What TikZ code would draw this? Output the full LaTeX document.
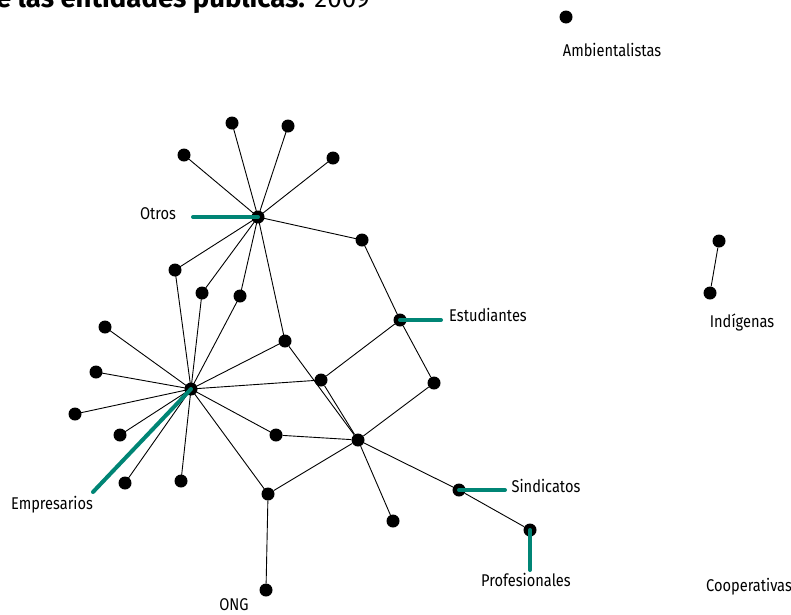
\documentclass[tikz,border=0pt]{standalone}
\usepackage{fontspec}
\setmainfont[FakeStretch=0.86]{Fira Sans}
\newfontfamily\titlefont{Fira Sans}
\usepackage{xcolor}
\definecolor{linkteal}{RGB}{0,133,117}
\usetikzlibrary{positioning}
\tikzset{
  actor/.style={circle,fill=black,inner sep=0pt,minimum size=13pt},
  tie/.style={black,line width=0.9pt},
  callout/.style={linkteal,line width=4pt,line cap=round},
  group/.style={font=\fontsize{17}{19}\selectfont,inner sep=0pt}
}

\begin{document}
\begin{tikzpicture}[x=1pt, y=-1pt]
        \useasboundingbox (0,0) rectangle (791,614);
        % title, cut at the top
        \node[anchor=base west,inner sep=0pt,font=\titlefont\bfseries\fontsize{27.5}{30}\selectfont] (title) at (-4,7) {e las entidades públicas.};
        \node[anchor=base west,inner sep=0pt,font=\titlefont\fontsize{26}{30}\selectfont] (year) at ([xshift=9pt]title.base east) {2009};
        % hubs
        \node[actor] (otros) at (258,217) {};
        \node[actor] (empresarios) at (191,389) {};
        \node[actor] (estudiantes) at (400,320) {};
        \node[actor] (sindicatos) at (459,490) {};
        \node[actor] (profesionales) at (530,530) {};
        \node[actor] (ong) at (266,590) {};
        \node[actor] (ambient) at (566,17) {};
        \node[actor] (indigA) at (719,241) {};
        \node[actor] (indigB) at (710,293) {};
        % other actors
        \node[actor] (a1) at (184,155) {};
        \node[actor] (a2) at (232,123) {};
        \node[actor] (a3) at (288,126) {};
        \node[actor] (a4) at (333,158) {};
        \node[actor] (b1) at (175,270) {};
        \node[actor] (b2) at (202,293) {};
        \node[actor] (b3) at (240,296) {};
        \node[actor] (b4) at (362,240) {};
        \node[actor] (p) at (285,341) {};
        \node[actor] (m) at (321,380) {};
        \node[actor] (t) at (434,383) {};
        \node[actor] (c) at (358,440) {};
        \node[actor] (q) at (276,435) {};
        \node[actor] (r) at (268,494) {};
        \node[actor] (u) at (393,521) {};
        \node[actor] (e1) at (105,327) {};
        \node[actor] (e2) at (96,372) {};
        \node[actor] (e3) at (75,414) {};
        \node[actor] (e4) at (120,435) {};
        \node[actor] (e5) at (125,483) {};
        \node[actor] (e6) at (181,481) {};
        % ties
        \foreach \t in {a1,a2,a3,a4,b1,b2,b3,b4,p}
          \draw[tie] (otros.center) -- (\t.center);
        \foreach \t in {b1,b2,b3,p,m,q,r,e1,e2,e3,e4,e5,e6}
          \draw[tie] (empresarios.center) -- (\t.center);
        \draw[tie] (b4) -- (estudiantes);
        \draw[tie] (estudiantes) -- (m);
        \draw[tie] (estudiantes) -- (t);
        \draw[tie] (t) -- (c);
        \draw[tie] (m) -- (c);
        \draw[tie] (p) -- (c);
        \draw[tie] (q) -- (c);
        \draw[tie] (r) -- (c);
        \draw[tie] (r) -- (ong);
        \draw[tie] (c) -- (u);
        \draw[tie] (c) -- (sindicatos);
        \draw[tie] (sindicatos) -- (profesionales);
        \draw[tie] (indigA) -- (indigB);
        % labels
        \node[group] (lblOtros) at (158,214) {Otros};
        \node[group] (lblEstudiantes) at (488,315) {Estudiantes};
        \node[group] (lblEmpresarios) at (52,505) {Empresarios};
        \node[group] (lblSindicatos) at (546,486) {Sindicatos};
        \node[group] (lblProfesionales) at (526,580) {Profesionales};
        \node[group] (lblOng) at (234,605) {ONG};
        \node[group] (lblAmbient) at (612,50) {Ambientalistas};
        \node[group] (lblIndig) at (742,322) {Indígenas};
        \node[group] (lblCoop) at (749,587) {Cooperativas};
        % callouts
        \coordinate (tipOtros) at (193,217);
        \coordinate (tipEstudiantes) at (441,320);
        \coordinate (tipEmpresarios) at (93,492);
        \coordinate (tipSindicatos) at (505,490);
        \coordinate (tipProfesionales) at (530,570);
        \draw[callout] (otros.center) -- (tipOtros);
        \draw[callout] (estudiantes.center) -- (tipEstudiantes);
        \draw[callout] (empresarios.center) -- (tipEmpresarios);
        \draw[callout] (sindicatos.center) -- (tipSindicatos);
        \draw[callout] (profesionales.center) -- (tipProfesionales);
      \end{tikzpicture}
\end{document}
